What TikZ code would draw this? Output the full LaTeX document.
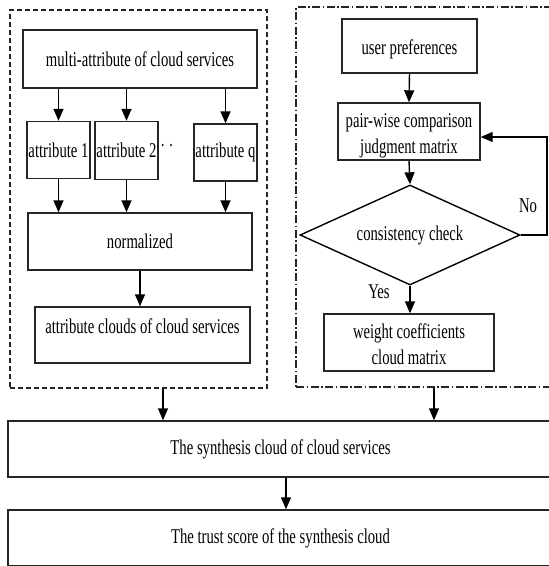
\documentclass[tikz,border=0pt]{standalone}
\usepackage{fontspec}
\setmainfont{Liberation Serif}[FakeStretch=0.70]
\usetikzlibrary{shapes.geometric,arrows.meta,calc}
\newcommand{\lowered}[2]{\smash{\raisebox{#1}{#2}}}
\begin{document}
\begin{tikzpicture}[x=1pt,y=-1pt,
  every node/.style={font=\fontsize{21}{25}\selectfont, text=black},
  box/.style={draw=black!85, line width=1.4pt, inner sep=0pt, align=center},
  lframe/.style={draw=black!85, line width=1.3pt, dash pattern=on 5pt off 3pt, inner sep=0pt},
  rframe/.style={draw=black!85, line width=1.3pt, dash pattern=on 8pt off 2.5pt on 1.5pt off 2.5pt, inner sep=0pt},
  arr/.style={draw=black, line width=1.4pt, -{Triangle[length=12pt,width=10pt]}},
  plain/.style={draw=black, line width=1.4pt}]
\useasboundingbox (0,0) rectangle (549,566);
\clip (0,0) rectangle (549,566);
\fill[white] (0,0) rectangle (549,566);
% frames
\node[lframe, minimum width=257, minimum height=378] (lf) at (138.5,199) {};
\node[rframe, minimum width=257, minimum height=380] (rf) at (424.5,197) {};
% left column
\node[box, minimum width=234, minimum height=58] (multi) at (140,59) {multi-attribute of cloud services};
\node[box, minimum width=63, minimum height=57] (a1) at (58.5,150) {attribute 1};
\node[box, minimum width=63, minimum height=58] (a2) at (126.5,150.5) {attribute 2};
\node[box, minimum width=63, minimum height=57] (aq) at (225.5,152.5) {attribute q};
\node[inner sep=0pt] (dots) at (167,148) {\textperiodcentered\,\textperiodcentered};
\node[box, minimum width=224, minimum height=57] (norm) at (140,241.5) {normalized};
\node[box, minimum width=215, minimum height=56] (clouds) at (142.5,335) {\lowered{2pt}{attribute clouds of cloud services}};
\draw[arr] (a1.north |- multi.south) -- (a1.north);
\draw[arr] (a2.north |- multi.south) -- (a2.north);
\draw[arr] (aq.north |- multi.south) -- (aq.north);
\draw[arr] (a1.south) -- (a1.south |- norm.north);
\draw[arr] (a2.south) -- (a2.south |- norm.north);
\draw[arr] (aq.south) -- (aq.south |- norm.north);
\draw[arr] (norm.south) -- (norm.south |- clouds.north);
% right column
\node[box, minimum width=135, minimum height=54] (user) at (409.5,46) {\lowered{-8pt}{user preferences}};
\node[box, minimum width=142, minimum height=57] (pair) at (409,131.5) {\lowered{-22pt}{\shortstack{pair-wise comparison\\[4pt]judgment matrix}}};
\node[draw=black, line width=1.4pt, diamond, aspect=2.2, inner sep=0pt, minimum width=220, minimum height=100] (dia) at (410,235) {consistency check};
\node[box, minimum width=170, minimum height=57] (weight) at (409,342.5) {\lowered{-22pt}{\shortstack{weight coefficients\\[4pt]cloud matrix}}};
\draw[arr] (user.south) -- (pair.north);
\draw[arr] (pair.south) -- (dia.north);
\draw[arr] (dia.south) -- (dia.south |- weight.north);
\coordinate (nr) at (547,235);
\draw[arr] (dia.east) -- (nr) |- ([yshift=-5.5pt]pair.east);
\node (no) at (528,206) {No};
\node (yes) at (379,292) {Yes};
% bottom
\node[box, minimum width=545, minimum height=56] (synth) at (280.5,449) {The synthesis cloud of cloud services};
\node[box, minimum width=545, minimum height=56] (trust) at (280.5,538) {The trust score of the synthesis cloud};
\draw[arr] ([xshift=24.5pt]lf.south) -- ([xshift=24.5pt]lf.south |- synth.north);
\draw[arr] ([xshift=9.5pt]rf.south) -- ([xshift=9.5pt]rf.south |- synth.north);
\draw[arr] ([xshift=5.5pt]synth.south) -- ([xshift=5.5pt]synth.south |- trust.north);
\end{tikzpicture}
\end{document}
